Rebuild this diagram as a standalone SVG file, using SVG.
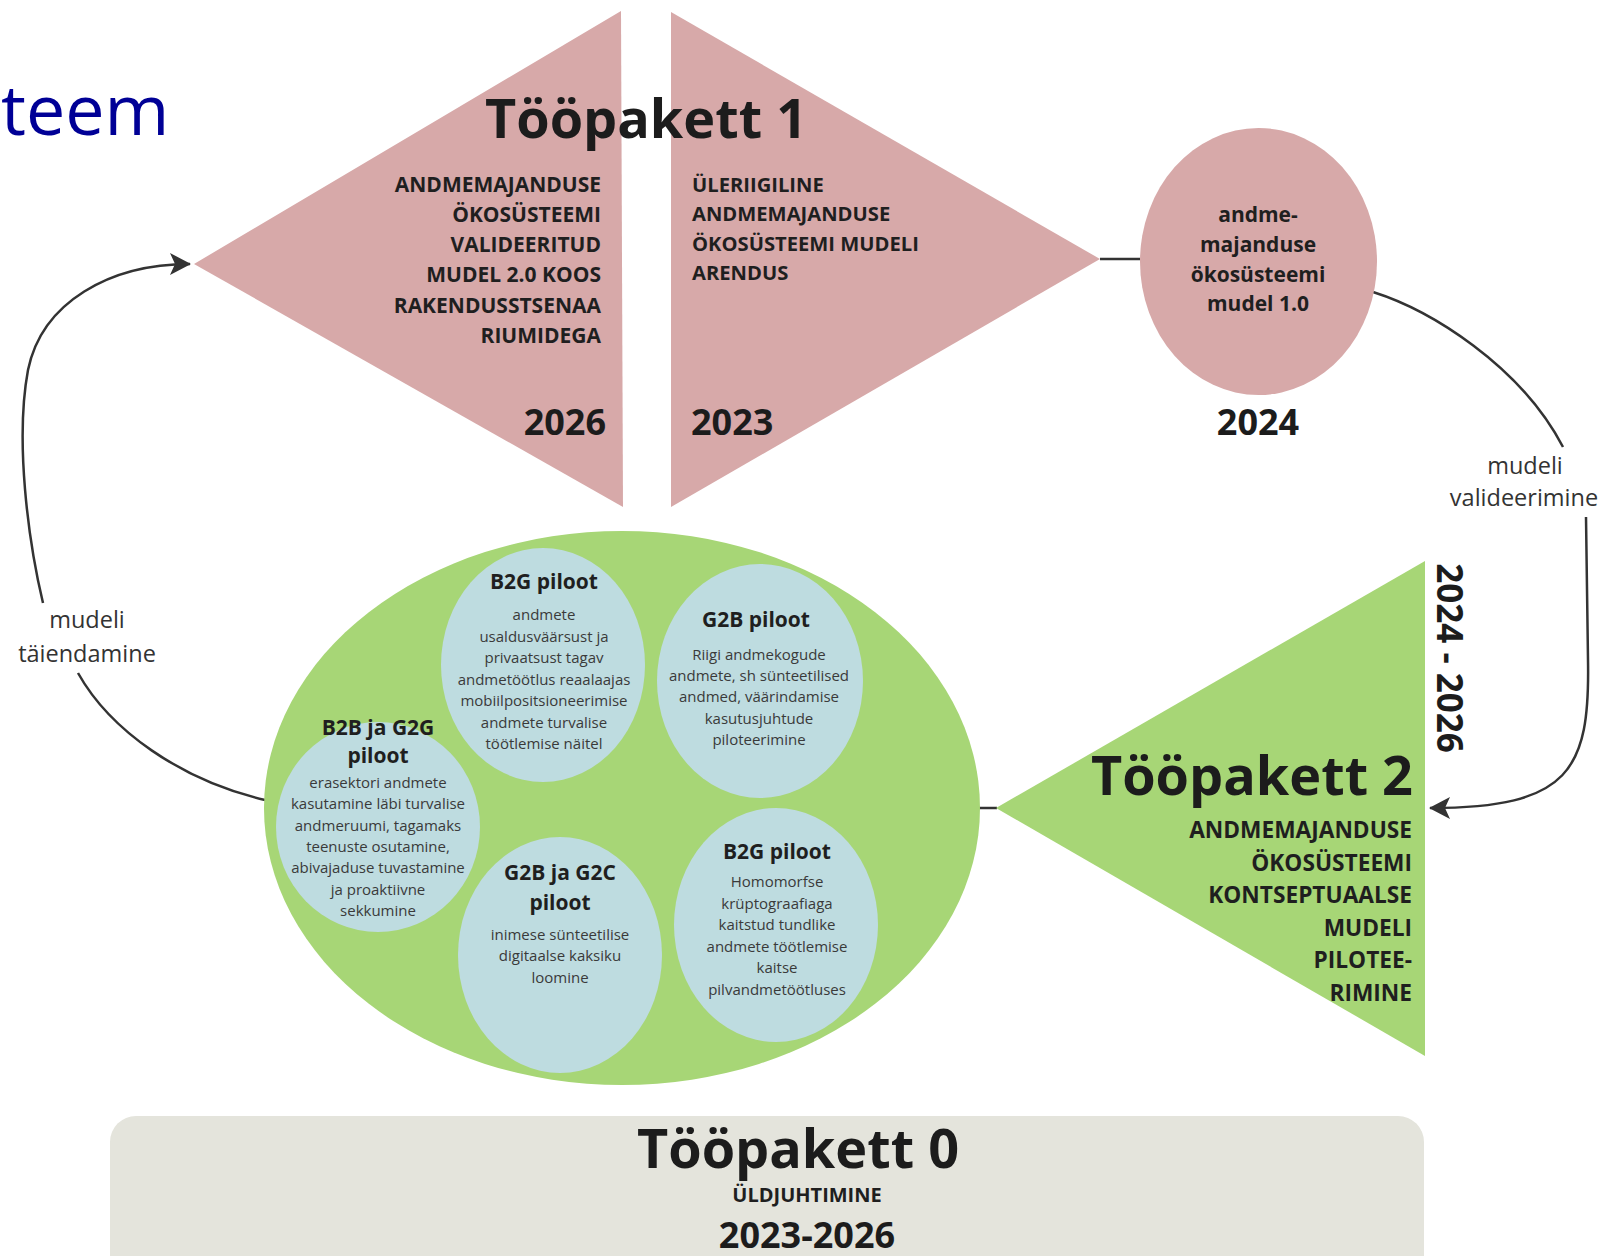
<svg xmlns="http://www.w3.org/2000/svg" width="1605" height="1256" viewBox="0 0 1605 1256">
<defs>
<style>
.t{font-family:"Open Sans","Liberation Sans",sans-serif;}
.big{font-weight:700;font-size:54px;fill:#1c1c1c;}
.cap{font-weight:700;font-size:21px;fill:#1f1f1f;}
.capr{font-weight:700;font-size:20.2px;fill:#1f1f1f;}
.cap2{font-weight:700;font-size:22.7px;fill:#1f1f1f;}
.year{font-weight:700;font-size:36px;fill:#1c1c1c;}
.ct{font-weight:700;font-size:21px;fill:#1f1f1f;text-anchor:middle;}
.cb{font-weight:400;font-size:15px;fill:#3a3a3a;text-anchor:middle;}
.lbl{font-weight:400;font-size:23.5px;fill:#333;text-anchor:middle;}
.pink{fill:#D7A9A9;}
.green{fill:#A7D676;}
.blue{fill:#BEDCE0;}
.con{fill:none;stroke:#333;stroke-width:2.5;}
</style>
<marker id="arr" markerUnits="userSpaceOnUse" markerWidth="24" markerHeight="26" refX="21" refY="12" orient="auto">
<path d="M1,1 L22,12 L1,23 L6,12 z" fill="#333"/>
</marker>
</defs>
<rect width="1605" height="1256" fill="#fff"/>

<text class="t" x="1" y="135" style="font-size:70px;fill:#000096;">teem</text>

<g id="connectors">
<path class="con" d="M43,603 C28,540 15,440 28,370 C42,302 110,264 190,264" marker-end="url(#arr)"/>
<path class="con" d="M78,673 C110,730 180,780 265,800"/>
<path class="con" d="M1100,259 L1140,259"/>
<path class="con" d="M1373,292 C1430,310 1520,365 1563,447"/>
<path class="con" d="M1586,517 L1588,660 C1590,770 1570,808 1430,808" marker-end="url(#arr)"/>
<path class="con" d="M979,808 L997,808"/>
<text class="t lbl" x="1525" y="474">mudeli</text>
<text class="t lbl" x="1524" y="506">valideerimine</text>
<text class="t lbl" x="87" y="628">mudeli</text>
<text class="t lbl" x="87" y="662">täiendamine</text>
</g>

<g id="tp1-left">
<polygon class="pink" points="194,264 621,11 623,507"/>
<text class="t cap" text-anchor="end" x="601" y="192">ANDMEMAJANDUSE</text>
<text class="t cap" text-anchor="end" x="601" y="222">ÖKOSÜSTEEMI</text>
<text class="t cap" text-anchor="end" x="601" y="252">VALIDEERITUD</text>
<text class="t cap" text-anchor="end" x="601" y="282">MUDEL 2.0 KOOS</text>
<text class="t cap" text-anchor="end" x="601" y="313">RAKENDUSSTSENAA</text>
<text class="t cap" text-anchor="end" x="601" y="343">RIUMIDEGA</text>
<text class="t year" text-anchor="end" x="606" y="435">2026</text>
</g>

<g id="tp1-right">
<polygon class="pink" points="671,12 671,507 1100,259"/>
<text class="t capr" x="692" y="192">ÜLERIIGILINE</text>
<text class="t capr" x="692" y="221">ANDMEMAJANDUSE</text>
<text class="t capr" x="692" y="251">ÖKOSÜSTEEMI MUDELI</text>
<text class="t capr" x="692" y="280">ARENDUS</text>
<text class="t year" x="691" y="435">2023</text>
</g>

<g id="tp1-title">
<text class="t big" x="646" y="138" text-anchor="middle">Tööpakett 1</text>
</g>

<g id="model-2024">
<ellipse class="pink" cx="1258.5" cy="261.5" rx="118.5" ry="133.5"/>
<text class="t ct" x="1258" y="222">andme-</text>
<text class="t ct" x="1258" y="252">majanduse</text>
<text class="t ct" x="1258" y="282">ökosüsteemi</text>
<text class="t ct" x="1258" y="311">mudel 1.0</text>
<text class="t year" x="1258" y="435" text-anchor="middle">2024</text>
</g>

<g id="pilots">
<ellipse class="green" cx="622" cy="808" rx="358" ry="277"/>
</g>

<g id="pilot-b2g-1">
<ellipse class="blue" cx="543" cy="665" rx="102" ry="117"/>
<text class="t ct" x="544" y="589">B2G piloot</text>
<text class="t cb" x="544" y="620">andmete</text>
<text class="t cb" x="544" y="641.5">usaldusväärsust ja</text>
<text class="t cb" x="544" y="663">privaatsust tagav</text>
<text class="t cb" x="544" y="684.5">andmetöötlus reaalaajas</text>
<text class="t cb" x="544" y="706">mobiilpositsioneerimise</text>
<text class="t cb" x="544" y="727.5">andmete turvalise</text>
<text class="t cb" x="544" y="749">töötlemise näitel</text>
</g>

<g id="pilot-g2b">
<ellipse class="blue" cx="760" cy="681" rx="103" ry="117"/>
<text class="t ct" x="756" y="627">G2B piloot</text>
<text class="t cb" x="759" y="660">Riigi andmekogude</text>
<text class="t cb" x="759" y="681">andmete, sh sünteetilised</text>
<text class="t cb" x="759" y="702">andmed, väärindamise</text>
<text class="t cb" x="759" y="724">kasutusjuhtude</text>
<text class="t cb" x="759" y="745">piloteerimine</text>
</g>

<g id="pilot-b2b-g2g">
<ellipse class="blue" cx="378" cy="827" rx="102" ry="105"/>
<text class="t ct" x="378" y="735">B2B ja G2G</text>
<text class="t ct" x="378" y="763">piloot</text>
<text class="t cb" x="378" y="788">erasektori andmete</text>
<text class="t cb" x="378" y="809.3">kasutamine läbi turvalise</text>
<text class="t cb" x="378" y="830.6">andmeruumi, tagamaks</text>
<text class="t cb" x="378" y="852">teenuste osutamine,</text>
<text class="t cb" x="378" y="873">abivajaduse tuvastamine</text>
<text class="t cb" x="378" y="894.5">ja proaktiivne</text>
<text class="t cb" x="378" y="916">sekkumine</text>
</g>

<g id="pilot-g2b-g2c">
<ellipse class="blue" cx="560" cy="955" rx="102" ry="118"/>
<text class="t ct" x="560" y="880">G2B ja G2C</text>
<text class="t ct" x="560" y="910">piloot</text>
<text class="t cb" x="560" y="940">inimese sünteetilise</text>
<text class="t cb" x="560" y="961">digitaalse kaksiku</text>
<text class="t cb" x="560" y="983">loomine</text>
</g>

<g id="pilot-b2g-2">
<ellipse class="blue" cx="776" cy="925" rx="102" ry="117"/>
<text class="t ct" x="777" y="859">B2G piloot</text>
<text class="t cb" x="777" y="887">Homomorfse</text>
<text class="t cb" x="777" y="909">krüptograafiaga</text>
<text class="t cb" x="777" y="930">kaitstud tundlike</text>
<text class="t cb" x="777" y="952">andmete töötlemise</text>
<text class="t cb" x="777" y="973">kaitse</text>
<text class="t cb" x="777" y="995">pilvandmetöötluses</text>
</g>

<g id="tp2">
<polygon class="green" points="996,808 1425,561 1425,1056"/>
<text class="t big" text-anchor="end" x="1413" y="795">Tööpakett 2</text>
<text class="t cap2" text-anchor="end" x="1412" y="838">ANDMEMAJANDUSE</text>
<text class="t cap2" text-anchor="end" x="1412" y="870.6">ÖKOSÜSTEEMI</text>
<text class="t cap2" text-anchor="end" x="1412" y="903.2">KONTSEPTUAALSE</text>
<text class="t cap2" text-anchor="end" x="1412" y="935.8">MUDELI</text>
<text class="t cap2" text-anchor="end" x="1412" y="968.4">PILOTEE-</text>
<text class="t cap2" text-anchor="end" x="1412" y="1001">RIMINE</text>
<text class="t" transform="translate(1437,658) rotate(90)" text-anchor="middle" style="font-weight:700;font-size:35px;fill:#1c1c1c;">2024 - 2026</text>
</g>

<g id="tp0">
<rect x="110" y="1116" width="1314" height="170" rx="26" fill="#E4E4DC"/>
<text class="t big" x="798" y="1168" text-anchor="middle">Tööpakett 0</text>
<text class="t" x="807" y="1202" text-anchor="middle" style="font-weight:700;font-size:20px;fill:#1f1f1f;">ÜLDJUHTIMINE</text>
<text class="t year" x="807" y="1248" text-anchor="middle">2023-2026</text>
</g>
</svg>
